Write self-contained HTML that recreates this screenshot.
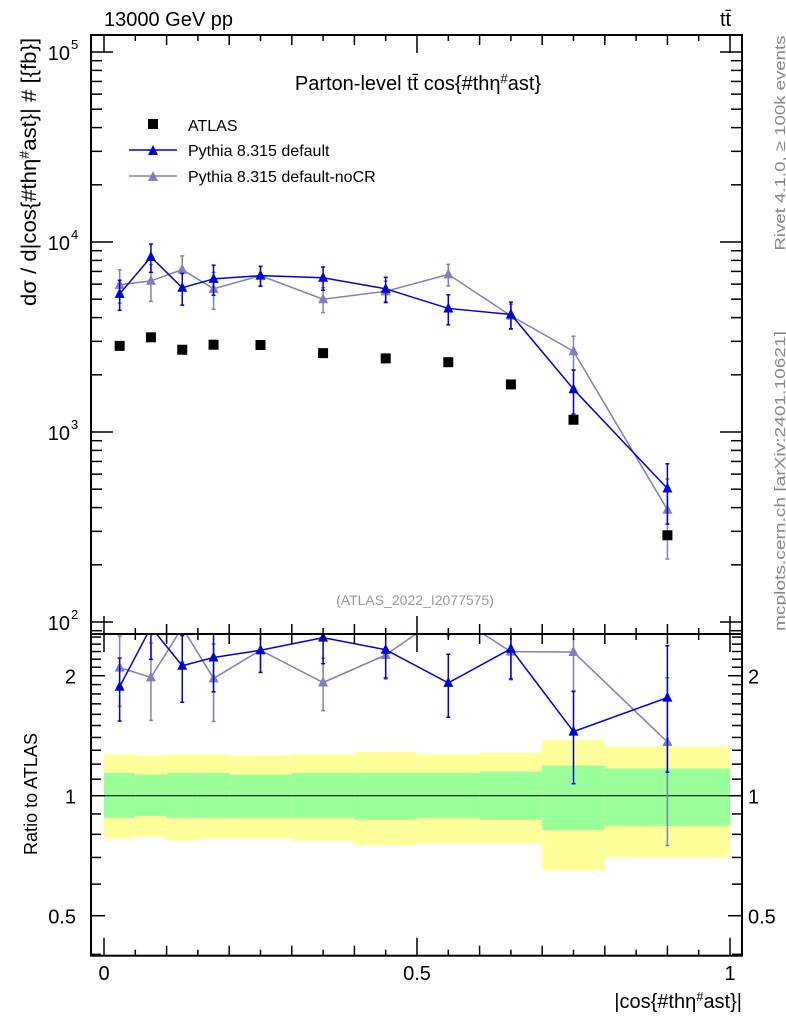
<!DOCTYPE html>
<html><head><meta charset="utf-8"><style>
body{margin:0;background:#fff}
svg{display:block;font-family:"Liberation Sans",sans-serif}
</style></head><body>
<svg id="c" width="786" height="1024" viewBox="0 0 786 1024" xmlns="http://www.w3.org/2000/svg"></svg>
<script>
const binEdges=[0,0.05,0.1,0.15,0.2,0.3,0.4,0.5,0.6,0.7,0.8,1.0];
const xCenters=[0.025,0.075,0.125,0.175,0.25,0.35,0.45,0.55,0.65,0.75,0.9];
const atlas=[2840,3150,2710,2880,2870,2600,2440,2330,1780,1160,286];
const pyDefault=[5330,8340,5740,6400,6650,6480,5670,4470,4160,1680,504];
const pyDefaultErr=[0.18,0.17,0.19,0.18,0.12,0.14,0.15,0.18,0.16,0.26,0.35];
const pyNoCR=[5950,6240,7160,5670,6650,5000,5500,6750,4090,2660,390];
const pyNoCRErr=[0.20,0.22,0.18,0.22,0.12,0.15,0.13,0.13,0.15,0.20,0.45];
const bandInnerUp=[1.14,1.13,1.14,1.14,1.13,1.14,1.14,1.14,1.15,1.19,1.17];
const bandInnerDn=[0.88,0.89,0.88,0.88,0.88,0.88,0.87,0.88,0.87,0.82,0.84];
const bandOuterUp=[1.27,1.26,1.27,1.27,1.26,1.27,1.29,1.27,1.28,1.38,1.33];
const bandOuterDn=[0.78,0.79,0.77,0.78,0.78,0.77,0.75,0.76,0.76,0.65,0.70];
const yTickMain=["10","10","10","10"];
const ratioTicks=[0.5,1,2];

const svg=document.getElementById('c');
const NS='http://www.w3.org/2000/svg';
const L=91,R=742,MT=35,MB=634,RT=634,RB=955.7;
function X(v){return 104+v*626;}
function Y(v){return 52+(5-Math.log10(v))*190;}
function YR(v){return 795.7-Math.log10(v)*398.6;}
function el(tag,a,parent){const e=document.createElementNS(NS,tag);for(const k in a)e.setAttribute(k,a[k]);(parent||svg).appendChild(e);return e;}
function txt(s,a,parent){const e=el('text',a,parent);e.textContent=s;return e;}
function sup(e,s){const t=el('tspan',{'baseline-shift':'super','font-size':'65%'},e);t.textContent=s;return t;}
function span(e,s){const t=el('tspan',{},e);t.textContent=s;return t;}

const defs=el('defs',{});
const cm=el('clipPath',{id:'cm'},defs);el('rect',{x:L,y:MT,width:R-L,height:MB-MT},cm);
const cr=el('clipPath',{id:'cr'},defs);el('rect',{x:L,y:RT,width:R-L,height:RB-RT},cr);

const gBand=el('g',{'clip-path':'url(#cr)'});


for(let i=0;i<xCenters.length;i++){
  const x0=X(binEdges[i]),x1=X(binEdges[i+1]);
  const r1=el('rect',{x:x0,y:YR(bandOuterUp[i]),width:x1-x0,height:YR(bandOuterDn[i])-YR(bandOuterUp[i]),fill:'#ffff99'},gBand);
  
  
  const r2=el('rect',{x:x0,y:YR(bandInnerUp[i]),width:x1-x0,height:YR(bandInnerDn[i])-YR(bandInnerUp[i]),fill:'#99ff99'},gBand);
  
  
}
el('line',{x1:L,x2:R,y1:YR(1),y2:YR(1),stroke:'#000','stroke-width':1});

function tri(g,x,y,c){el('polygon',{points:`${x-5},${y+4} ${x+5},${y+4} ${x},${y-6}`,fill:c},g);}
function series(vals,errs,color,name,ratio){
  const g=el('g',{'clip-path':ratio?'url(#cr)':'url(#cm)'});
  
  
  const f=ratio?(i,v)=>YR(v/atlas[i]):(i,v)=>Y(v);
  let pts=vals.map((v,i)=>X(xCenters[i])+','+f(i,v)).join(' ');
  el('polyline',{points:pts,fill:'none',stroke:color,'stroke-width':1.5},g);
  vals.forEach((v,i)=>{
    const x=X(xCenters[i]),y1=f(i,v*(1+errs[i])),y2=f(i,v*(1-errs[i]));
    el('line',{x1:x,x2:x,y1:y1,y2:y2,stroke:color,'stroke-width':1.5},g);
    el('line',{x1:x-2,x2:x+2,y1:y1,y2:y1,stroke:color,'stroke-width':1.5},g);
    el('line',{x1:x-2,x2:x+2,y1:y2,y2:y2,stroke:color,'stroke-width':1.5},g);
    tri(g,x,f(i,v),color);
  });
}
series(pyNoCR,pyNoCRErr,'#7f7fbf','series-pythia-nocr',false);
series(pyDefault,pyDefaultErr,'#0000dd','series-pythia-default',false);
series(pyNoCR,pyNoCRErr,'#7f7fbf','ratio-pythia-nocr',true);
series(pyDefault,pyDefaultErr,'#0000dd','ratio-pythia-default',true);

const gA=el('g',{});


atlas.forEach((v,i)=>{el('rect',{x:X(xCenters[i])-5,y:Y(v)-5,width:10,height:10,fill:'#000'},gA);});

el('rect',{x:L,y:MT,width:R-L,height:MB-MT,fill:'none',stroke:'#000','stroke-width':2});
el('rect',{x:L,y:RT,width:R-L,height:RB-RT,fill:'none',stroke:'#000','stroke-width':2});

for(let k=0;k<=20;k++){
  const v=k*0.05,x=X(v);
  const len=(k%10==0)?18:(k%2==0?10:6);
  el('line',{x1:x,x2:x,y1:MT,y2:MT+len,stroke:'#000','stroke-width':1.5});
  el('line',{x1:x,x2:x,y1:MB,y2:MB-len,stroke:'#000','stroke-width':1.5});
  el('line',{x1:x,x2:x,y1:RT,y2:RT+len,stroke:'#000','stroke-width':1.5});
  el('line',{x1:x,x2:x,y1:RB,y2:RB-len,stroke:'#000','stroke-width':1.5});
}
['0','0.5','1'].forEach((s,i)=>txt(s,{x:X(i*0.5),y:980,'font-size':20,'text-anchor':'middle'}));

for(let d=1;d<=5;d++){for(let m=1;m<=9;m++){
  const v=m*Math.pow(10,d),y=Y(v);if(y<MT||y>MB)continue;
  const len=m==1?22:11;
  el('line',{x1:L,x2:L+len,y1:y,y2:y,stroke:'#000','stroke-width':1.5});
  el('line',{x1:R,x2:R-len,y1:y,y2:y,stroke:'#000','stroke-width':1.5});
}}
[5,4,3,2].forEach((p,i)=>{
  txt(yTickMain[i],{x:70,y:Y(Math.pow(10,p))+8,'font-size':20,'text-anchor':'end'});
  txt(String(p),{x:71,y:Y(Math.pow(10,p))-3,'font-size':13});
});
for(let k=4;k<=25;k++){
  const v=k/10,y=YR(v);if(y<RT||y>RB)continue;
  const major=ratioTicks.some(t=>Math.abs(t-v)<1e-6);
  const len=major?14:10;
  el('line',{x1:L,x2:L+len,y1:y,y2:y,stroke:'#000','stroke-width':1.5});
  el('line',{x1:R,x2:R-len,y1:y,y2:y,stroke:'#000','stroke-width':1.5});
}
ratioTicks.forEach(t=>{
  txt(String(t),{x:76,y:YR(t)+8,'font-size':20,'text-anchor':'end'});
  txt(String(t),{x:748,y:YR(t)+8,'font-size':20});
});

const t1=txt('13000 GeV pp',{x:104,y:26,'font-size':20});
const t2=txt('tt̄',{x:720,y:26,'font-size':20});
const t3=el('text',{x:418,y:90,'font-size':20,'text-anchor':'middle'});
span(t3,'Parton-level tt̄ cos{#thη');sup(t3,'#');span(t3,'ast}');
const t4=txt('(ATLAS_2022_I2077575)',{x:415,y:605,'font-size':14,fill:'#999','text-anchor':'middle'});
const t5=el('text',{x:0,y:0,'font-size':21,'text-anchor':'middle',textLength:268,lengthAdjust:'spacingAndGlyphs',transform:'translate(36,172) rotate(-90)'});
span(t5,'dσ / d|cos{#thη');sup(t5,'#');span(t5,'ast}| # [{fb}]');
const t6=txt('Ratio to ATLAS',{x:0,y:0,'font-size':18,'text-anchor':'middle',textLength:122,lengthAdjust:'spacingAndGlyphs',transform:'translate(37,794) rotate(-90)'});
const t7=el('text',{x:742,y:1008,'font-size':20,'text-anchor':'end'});
span(t7,'|cos{#thη');sup(t7,'#');span(t7,'ast}|');
const t8=txt('Rivet 4.1.0, ≥ 100k events',{x:0,y:0,'font-size':15,fill:'#888','text-anchor':'middle',textLength:215,lengthAdjust:'spacingAndGlyphs',transform:'translate(785,143) rotate(-90)'});
const t9=txt('mcplots.cern.ch [arXiv:2401.10621]',{x:0,y:0,'font-size':15,fill:'#888','text-anchor':'middle',textLength:300,lengthAdjust:'spacingAndGlyphs',transform:'translate(785,481) rotate(-90)'});

const lg=el('g',{});


el('rect',{x:148,y:119,width:10,height:10,fill:'#000'},lg);
txt('ATLAS',{x:188,y:131,'font-size':16},lg);
el('line',{x1:129,x2:177,y1:150,y2:150,stroke:'#0000dd','stroke-width':1.5},lg);tri(lg,153,151,'#0000dd');
txt('Pythia 8.315 default',{x:188,y:156,'font-size':16},lg);
el('line',{x1:129,x2:177,y1:176,y2:176,stroke:'#7f7fbf','stroke-width':1.5},lg);tri(lg,153,177,'#7f7fbf');
txt('Pythia 8.315 default-noCR',{x:188,y:182,'font-size':16},lg);
</script>
</body></html>
